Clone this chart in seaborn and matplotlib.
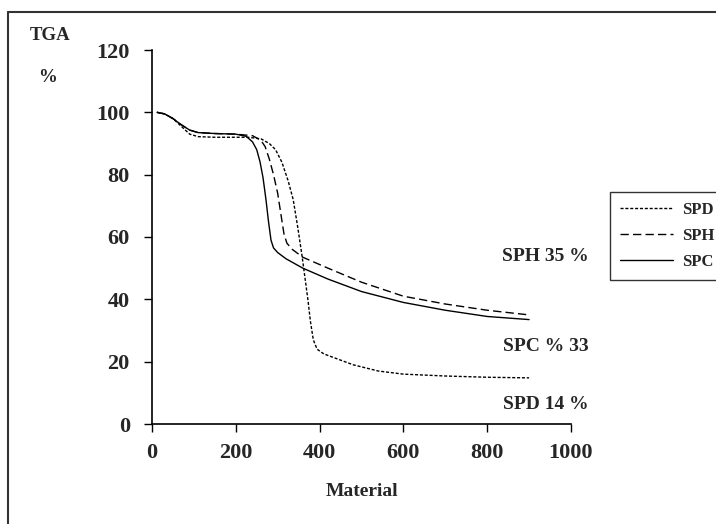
import numpy as np
import pandas as pd
import matplotlib
matplotlib.use("Agg")
import matplotlib.pyplot as plt
import seaborn as sns
from matplotlib.lines import Line2D

# ---- data ----
spd_x = [12, 30, 50, 70, 90, 110, 150, 200, 230, 260, 280, 295, 310, 325, 337, 348, 358, 365, 372, 378, 385, 394, 410, 440, 480, 540, 600, 700, 800, 900]
spd_y = [100, 99.5, 98, 95.5, 93, 92.2, 92, 92, 92, 91.5, 90, 88, 84, 78, 72, 63, 54, 47, 40, 33, 27, 24, 22.5, 21, 19, 17, 16, 15.4, 15, 14.8]

sph_x = [12, 30, 50, 70, 90, 110, 150, 200, 240, 260, 270, 280, 290, 300, 308, 315, 322, 335, 360, 420, 500, 600, 700, 800, 900]
sph_y = [100, 99.5, 98, 96, 94.3, 93.5, 93.2, 93, 92.5, 91, 89, 85, 80, 74, 67, 61, 58, 56, 53.5, 50, 45.5, 41, 38.5, 36.5, 35]

spc_x = [12, 30, 50, 70, 90, 110, 150, 200, 225, 240, 250, 258, 265, 272, 278, 284, 290, 300, 320, 360, 420, 500, 600, 700, 800, 900]
spc_y = [100, 99.5, 98, 96, 94.3, 93.5, 93.2, 93, 92.3, 90.5, 88, 84, 79, 72, 65, 59, 56.5, 55, 53, 50, 46.5, 42.5, 39, 36.5, 34.5, 33.5]

series_names = ["SPD", "SPH", "SPC"]
annotations = ["SPH 35 %", "SPC % 33", "SPD 14 %"]
annot_y = [53.6, 25, 6.4]
x_ticks = [0, 200, 400, 600, 800, 1000]
y_ticks = [0, 20, 40, 60, 80, 100, 120]

df = pd.concat([
    pd.DataFrame({"x": spd_x, "y": spd_y, "s": "SPD"}),
    pd.DataFrame({"x": sph_x, "y": sph_y, "s": "SPH"}),
    pd.DataFrame({"x": spc_x, "y": spc_y, "s": "SPC"}),
])

sns.set_style("white")
plt.rcParams["font.family"] = ["Liberation Serif", "DejaVu Serif"]
plt.rcParams["font.weight"] = "bold"

fig = plt.figure(figsize=(7.16, 5.24), dpi=100)
ax = fig.add_axes([152 / 716, 1 - 424 / 524, 419 / 716, 374 / 524])

styles = {"SPD": (0, (2.2, 1.3)), "SPH": (0, (6, 3)), "SPC": "-"}
for name in series_names:
    sub = df[df.s == name]
    sns.lineplot(data=sub, x="x", y="y", ax=ax, color="black", lw=1.0,
                 linestyle=styles[name], sort=False, estimator=None)

ax.set_xlim(0, 1000)
ax.set_ylim(0, 120)
ax.set_xticks(x_ticks)
ax.set_yticks(y_ticks)
ax.tick_params(axis="both", direction="out", length=6, width=1, color="black",
               labelsize=16, bottom=True, left=True)
for lab in ax.get_xticklabels() + ax.get_yticklabels():
    lab.set_fontweight("bold")
ax.tick_params(axis="x", pad=8)
ax.tick_params(axis="y", pad=10)
for sp in ["top", "right"]:
    ax.spines[sp].set_visible(False)
for sp in ["left", "bottom"]:
    ax.spines[sp].set_color("black")
    ax.spines[sp].set_linewidth(1.2)
ax.set_xlabel("Material", fontsize=14, fontweight="bold", labelpad=14)
ax.set_ylabel("")

for txt, yy in zip(annotations, annot_y):
    ax.text(1043, yy, txt, ha="right", va="center", fontsize=14, fontweight="bold", clip_on=False)

fig.text(50 / 716, 1 - 35 / 524, "TGA", ha="center", va="center", fontsize=13.5, fontweight="bold")
fig.text(48 / 716, 1 - 77 / 524, "%", ha="center", va="center", fontsize=13.5, fontweight="bold")

handles = [Line2D([0], [0], color="black", lw=1.0, linestyle=styles[n]) for n in series_names]
leg = fig.legend(handles, series_names, loc="upper left", bbox_to_anchor=(610 / 716, 1 - 192 / 524),
                 frameon=True, fancybox=False, edgecolor="black", fontsize=12,
                 handlelength=3.2, borderpad=0.6, labelspacing=0.6, handletextpad=0.5,
                 borderaxespad=0)
leg.get_frame().set_linewidth(1.0)
for t in leg.get_texts():
    t.set_fontweight("bold")

# outer border (top and left visible)
fig.add_artist(Line2D([8 / 716, 8 / 716], [0, 1 - 12 / 524], color="#333333", lw=1.5, transform=fig.transFigure))
fig.add_artist(Line2D([8 / 716, 1], [1 - 12 / 524, 1 - 12 / 524], color="#333333", lw=1.5, transform=fig.transFigure))

fig.savefig("out.png", dpi=100)
